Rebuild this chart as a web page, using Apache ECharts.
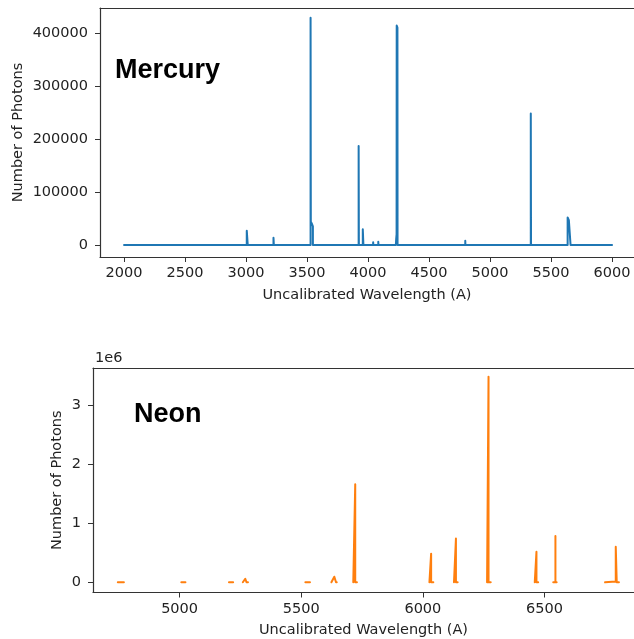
<!DOCTYPE html>
<html>
<head>
<meta charset="utf-8">
<script src="https://cdn.jsdelivr.net/npm/echarts@6/dist/echarts.min.js"></script>
<style>
html,body{margin:0;padding:0;background:#fff;}
#chart{width:634px;height:639px;}
</style>
</head>
<body>
<div id="chart"></div>
<script>
// Mercury spectrum (top panel)
const mercuryWavelength = [2000,
  3006, 3006, 3010, 3014, 3014,
  3225, 3225, 3228, 3228,
  3529, 3529, 3531, 3531, 3540, 3548, 3548,
  3923, 3923, 3925, 3925,
  3957, 3957, 3962, 3962,
  4042, 4042, 4043,
  4084, 4084, 4085,
  4228, 4231, 4234, 4235, 4241, 4242,
  4797, 4797, 4798,
  5334, 5334, 5336, 5336,
  5636, 5636, 5641, 5646, 5652, 5660, 5660,
  6000];
const mercuryPhotons = [0,
  0, 27000, 28300, 27500, 0,
  0, 13500, 13000, 0,
  0, 429000, 429000, 44000, 40000, 35000, 0,
  0, 187000, 187000, 0,
  0, 29500, 28000, 0,
  0, 5000, 0,
  0, 6000, 0,
  0, 12000, 20000, 414000, 410000, 0,
  0, 8000, 0,
  0, 248000, 248000, 0,
  0, 52000, 49000, 47000, 46000, 45500, 0,
  0];

// Neon spectrum (bottom panel); null marks a gap between measured segments
const neonWavelength = [4746, 4771, null,
  5007, 5024, null,
  5203, 5207, 5210, 5213, 5220, null,
  5260, 5265, 5270, 5275, 5281, null,
  5517, 5536, null,
  5624, 5629, 5636, 5643, 5646, null,
  5714, 5722, 5722, 5722, 5729, null,
  6027, 6034, 6034, 6034, 6043, null,
  6128, 6136, 6136, 6136, 6143, null,
  6264, 6270, 6270, 6270, 6279, null,
  6460, 6467, 6467, 6467, 6474, null,
  6536, 6545, 6545, 6545, 6550, null,
  6749, 6752, 6793, 6793, 6797, 6797, 6806];
const neonPhotons = [0, 0, null,
  0, 0, null,
  0, 0, 30000, 0, 0, null,
  0, 0, 60000, 0, 0, null,
  0, 0, null,
  0, 0, 95000, 0, 0, null,
  0, 0, 1660000, 0, 0, null,
  0, 0, 485000, 0, 0, null,
  0, 0, 740000, 0, 0, null,
  0, 0, 3480000, 0, 0, null,
  0, 0, 515000, 0, 0, null,
  0, 0, 785000, 0, 0, null,
  0, 15000, 15000, 600000, 600000, 0, 0];

const mercuryXTicks = [2000, 2500, 3000, 3500, 4000, 4500, 5000, 5500, 6000];
const mercuryYTicks = [0, 100000, 200000, 300000, 400000];
const neonXTicks = [5000, 5500, 6000, 6500];
const neonYTicks = [0, 1000000, 2000000, 3000000];

const FONT = 'DejaVu Sans';
const TXT = '#222';
const AX = '#333';

const mercuryData = mercuryWavelength.map((w, i) => [w, mercuryPhotons[i]]);
const neonData = neonWavelength.map((w, i) => (w === null || neonPhotons[i] === null) ? ['-', '-'] : [w, neonPhotons[i]]);

function xAxisCfg(gridIndex, min, max, ticks, gap) {
  return {
    type: 'value', gridIndex, min, max,
    name: 'Uncalibrated Wavelength (A)', nameLocation: 'middle', nameGap: gap,
    nameTextStyle: {fontFamily: FONT, fontSize: 14.5, color: TXT},
    axisLine: {show: true, onZero: false, lineStyle: {color: AX, width: 1.2}},
    axisTick: {show: true, length: 5, lineStyle: {color: AX}, customValues: ticks},
    axisLabel: {fontFamily: FONT, fontSize: 14.5, color: TXT, margin: 9, customValues: ticks,
      formatter: v => String(v)},
    splitLine: {show: false}
  };
}
function topSpine(gridIndex, min, max) {
  return {
    type: 'value', gridIndex, min, max, position: 'top',
    axisLine: {show: true, onZero: false, lineStyle: {color: AX, width: 1.2}},
    axisTick: {show: false}, axisLabel: {show: false}, splitLine: {show: false}
  };
}
function yAxisCfg(gridIndex, min, max, ticks, fmt, gap) {
  return {
    type: 'value', gridIndex, min, max,
    name: 'Number of Photons', nameLocation: 'middle', nameGap: gap, nameMoveOverlap: false,
    nameTextStyle: {fontFamily: FONT, fontSize: 14.5, color: TXT},
    axisLine: {show: true, onZero: false, lineStyle: {color: AX, width: 1.2}},
    axisTick: {show: true, length: 5, lineStyle: {color: AX}, customValues: ticks},
    axisLabel: {fontFamily: FONT, fontSize: 14.5, color: TXT, margin: 12, customValues: ticks,
      formatter: fmt},
    splitLine: {show: false}
  };
}

const chart = echarts.init(document.getElementById('chart'), null, {renderer: 'canvas'});
chart.setOption({
  animation: false,
  backgroundColor: '#fff',
  grid: [
    {left: 100, right: 0, top: 8, bottom: 382},
    {left: 93, right: 0, top: 368, bottom: 46.5}
  ],
  xAxis: [
    xAxisCfg(0, 1803, 6180, mercuryXTicks, 31),
    xAxisCfg(1, 4644, 6868, neonXTicks, 30),
    topSpine(0, 1803, 6180),
    topSpine(1, 4644, 6868)
  ],
  yAxis: [
    yAxisCfg(0, -22640, 447170, mercuryYTicks, v => String(v), 74),
    yAxisCfg(1, -172600, 3626000, neonYTicks, v => String(v / 1000000), 28)
  ],
  series: [
    {type: 'line', xAxisIndex: 0, yAxisIndex: 0, data: mercuryData, showSymbol: false,
      lineStyle: {color: '#1f77b4', width: 2, join: 'round', cap: 'round'}, connectNulls: false},
    {type: 'line', xAxisIndex: 1, yAxisIndex: 1, data: neonData, showSymbol: false,
      lineStyle: {color: '#ff7f0e', width: 2, join: 'round', cap: 'round'}, connectNulls: false}
  ],
  graphic: [
    {type: 'text', left: 115, top: 57, style: {text: 'Mercury', fontFamily: 'Liberation Sans', fontWeight: 'bold', fontSize: 27, fill: '#000'}},
    {type: 'text', left: 134, top: 401, style: {text: 'Neon', fontFamily: 'Liberation Sans', fontWeight: 'bold', fontSize: 27, fill: '#000'}},
    {type: 'text', left: 95, top: 351, style: {text: '1e6', fontFamily: FONT, fontSize: 14.5, fill: TXT}}
  ]
});
</script>
</body>
</html>
